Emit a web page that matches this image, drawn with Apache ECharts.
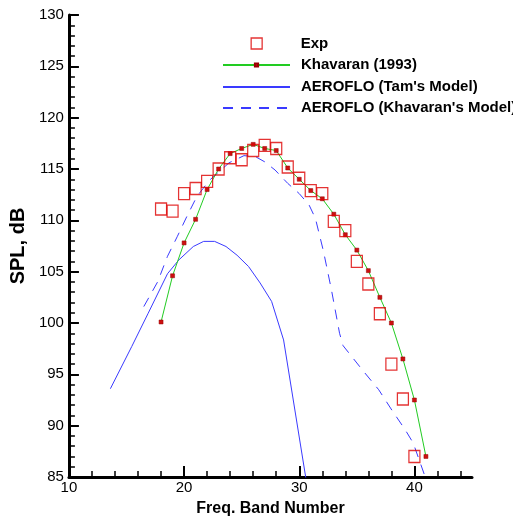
<!DOCTYPE html>
<html>
<head>
<meta charset="utf-8">
<script src="https://cdn.jsdelivr.net/npm/echarts@6/dist/echarts.min.js"></script>
<style>html,body{margin:0;padding:0;background:#fff;}#c{width:513px;height:524px;}</style>
</head>
<body>
<div id="c"></div>
<script>
var bandNumbers = [18,19,20,21,22,23,24,25,26,27,28,29,30,31,32,33,34,35,36,37,38,39,40];
var expSPL = [111.1,110.9,112.6,113.1,113.8,115.0,116.1,115.9,116.8,117.3,117.0,115.2,114.1,112.9,112.6,109.9,109.0,106.0,103.8,100.9,96.0,92.6,87.0];
var khavBands = [18,19,20,21,22,23,24,25,26,27,28,29,30,31,32,33,34,35,36,37,38,39,40,41];
var khavSPL = [100.1,104.6,107.8,110.1,113.0,115.0,116.5,117.0,117.4,117.0,116.8,115.1,114.0,112.9,112.1,110.6,108.6,107.1,105.1,102.5,100.0,96.5,92.5,87.0];
var tamBands = [13.6,15.45,16.86,18.56,19.55,20.8,21.7,22.65,23.64,24.6,25.6,26.6,27.6,28.64,30.6];
var tamSPL = [93.6,97.7,100.9,104.8,106.15,107.45,107.95,107.95,107.45,106.6,105.5,103.9,102.1,98.35,84.7];
var khModelBands = [16.5,17.7,18.56,19.4,20.25,21.1,22.2,23.9,25.2,26.2,27.0,27.9,29.0,30.0,30.85,31.4,32.1,32.8,33.5,33.8,35.5,36.9,38.05,39.2,39.9,41.0];
var khModelSPL = [101.6,104.0,106.5,108.4,110.4,112.3,113.9,115.6,116.3,116.2,115.7,114.9,113.6,112.6,111.5,110.2,107.0,103.2,99.0,97.8,95.4,93.5,91.5,89.6,88.3,84.8];
var xMajorTicks = [10,20,30,40];
var xMinorTicks = [12,14,16,18,22,24,26,28,32,34,36,38,42,44];
var seriesNames = ['Exp', 'Khavaran (1993)', "AEROFLO (Tam's Model)", "AEROFLO (Khavaran's Model)"];

function pairs(xs, ys){ return xs.map(function(x,i){ return [x, ys[i]]; }); }

var FONT = 'Liberation Sans, Arial, sans-serif';
var rowCenters = [43, 64.5, 86.5, 107.5];
function mkLegend(i, left, itemWidth, itemHeight, padLeft, itemCfg) {
  var d = Object.assign({name: seriesNames[i]}, itemCfg || {});
  return {
    orient: 'vertical', left: left, top: rowCenters[i] - 7, padding: 0,
    itemWidth: itemWidth, itemHeight: itemHeight,
    textStyle: {fontFamily: FONT, fontWeight: 'bold', fontSize: 15, lineHeight: 14, color: '#000', padding: [0,0,0,padLeft]},
    data: [d]
  };
}
var hideSymbol = {itemStyle: {color: 'rgba(0,0,0,0)', borderWidth: 0, borderColor: 'rgba(0,0,0,0)'}};

var chart = echarts.init(document.getElementById('c'), null, {renderer:'canvas'});
chart.setOption({
  animation: false,
  backgroundColor: '#fff',
  grid: {left: 59, right: 41, top: 15, bottom: 47},
  legend: [
    mkLegend(0, 250.5, 11, 11, 33.5, {icon: 'rect', itemStyle: {color: 'rgba(0,0,0,0)', borderColor: '#dd0000', borderWidth: 1.3}}),
    mkLegend(1, 222, 67, 4, 6),
    mkLegend(2, 222, 67, 10, 6, hideSymbol),
    mkLegend(3, 222, 67, 10, 6, hideSymbol)
  ],
  xAxis: [{
    type: 'value', min: 10, max: 45, interval: 10,
    name: 'Freq. Band Number', nameLocation: 'middle', nameGap: 24,
    nameTextStyle: {fontFamily: FONT, fontWeight: 'bold', fontSize: 16, color: '#000'},
    axisLine: {show: true, lineStyle: {color: '#000', width: 3}},
    axisTick: {show: true, inside: true, length: 11, lineStyle: {color: '#000', width: 2}, customValues: xMajorTicks},
    axisLabel: {fontFamily: FONT, fontSize: 15, color: '#000', margin: 3, customValues: xMajorTicks},
    splitLine: {show: false}
  }, {
    type: 'value', min: 10, max: 45, position: 'bottom',
    axisLine: {show: false},
    axisTick: {show: true, inside: true, length: 6, lineStyle: {color: '#000', width: 1.5}, customValues: xMinorTicks},
    axisLabel: {show: false},
    splitLine: {show: false}
  }],
  yAxis: {
    type: 'value', min: 85, max: 130, interval: 5,
    name: 'SPL, dB', nameLocation: 'middle', nameGap: 33,
    nameTextStyle: {fontFamily: FONT, fontWeight: 'bold', fontSize: 20, color: '#000'},
    axisLine: {show: true, lineStyle: {color: '#000', width: 3}},
    axisTick: {show: true, inside: true, length: 10, lineStyle: {color: '#000', width: 2}},
    minorTick: {show: true, splitNumber: 5, length: 6, lineStyle: {color: '#000', width: 1.5}},
    axisLabel: {fontFamily: FONT, fontSize: 15, color: '#000', margin: 5},
    splitLine: {show: false}, minorSplitLine: {show: false}
  },
  series: [
    {
      name: seriesNames[2], type: 'line', data: pairs(tamBands, tamSPL),
      symbol: 'none', itemStyle: {color: '#3a3aff'}, lineStyle: {color: '#3a3aff', width: 1}, z: 2
    },
    {
      name: seriesNames[3], type: 'line', data: pairs(khModelBands, khModelSPL),
      symbol: 'none', itemStyle: {color: '#3a3aff'}, lineStyle: {color: '#3a3aff', width: 1, type: [10, 8]}, z: 2
    },
    {
      name: seriesNames[1], type: 'line', data: pairs(khavBands, khavSPL),
      symbol: 'rect', symbolSize: 4, showAllSymbol: true,
      itemStyle: {color: '#cc1010', borderColor: '#990000', borderWidth: 0.5},
      lineStyle: {color: '#22cc22', width: 1}, z: 3
    },
    {
      name: seriesNames[0], type: 'scatter', data: pairs(bandNumbers, expSPL),
      symbol: 'rect', symbolSize: [11, 12],
      itemStyle: {color: 'rgba(0,0,0,0)', borderColor: '#dd0000', borderWidth: 1.3}, z: 4
    }
  ]
});
</script>
</body>
</html>
